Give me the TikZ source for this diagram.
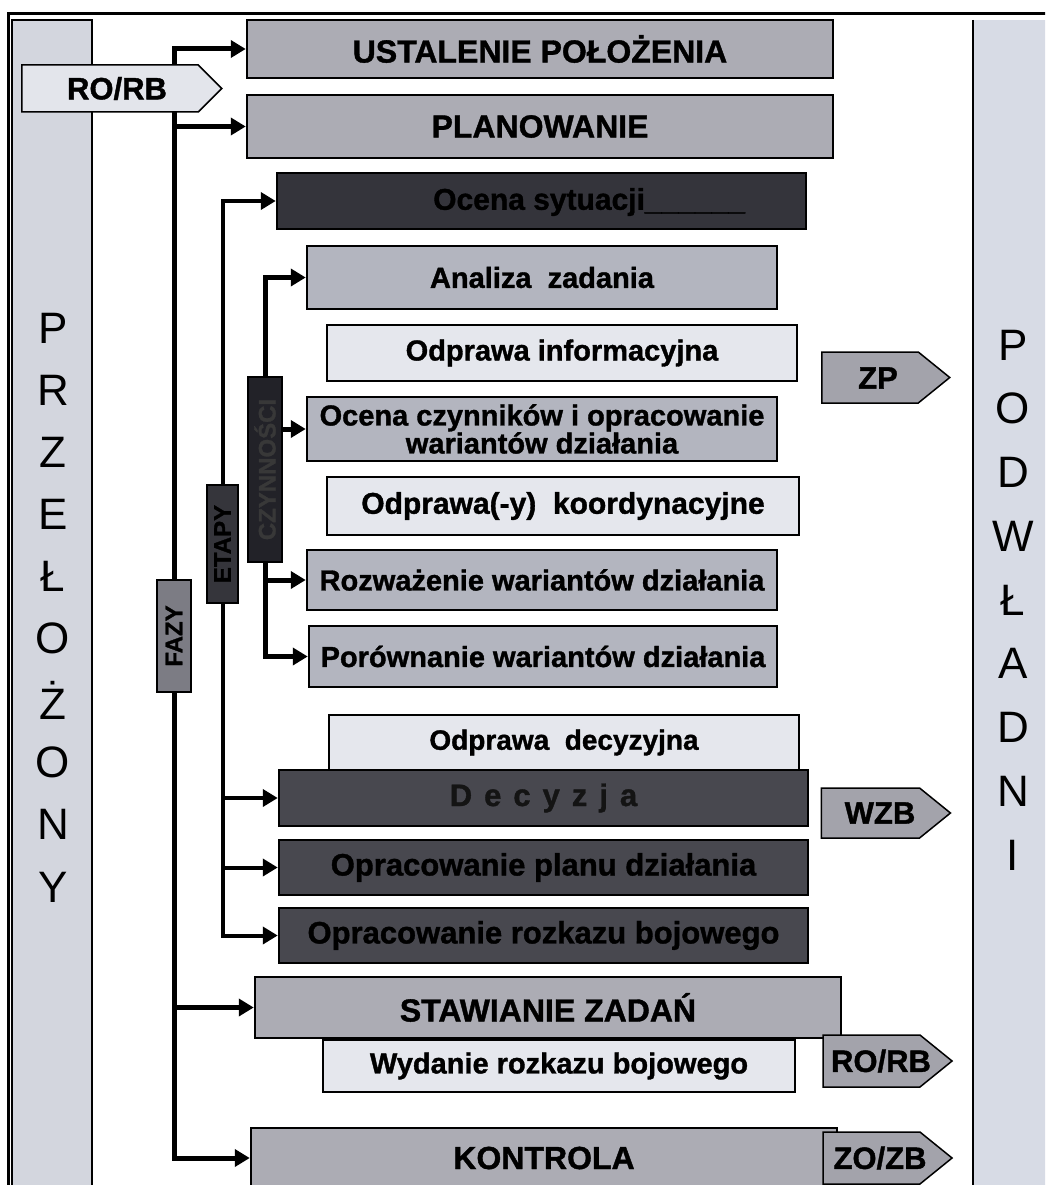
\documentclass[tikz,border=0pt]{standalone}
\usepackage{fontspec}
\setmainfont{Liberation Sans}[BoldFeatures={FakeBold=1.2}]
\usetikzlibrary{arrows.meta,shapes.symbols}

\definecolor{colmain}{HTML}{ACACB4}
\definecolor{colstep}{HTML}{B3B5BF}
\definecolor{colbrief}{HTML}{E5E7ED}
\definecolor{coldark}{HTML}{48484F}
\definecolor{coldarker}{HTML}{34343B}
\definecolor{coltag}{HTML}{A3A3AB}
\definecolor{coltagl}{HTML}{E3E5EB}
\definecolor{colside}{HTML}{D3D6DE}
\definecolor{colsider}{HTML}{D7DBE5}
\definecolor{colfazy}{HTML}{7C7C84}
\definecolor{coletapy}{HTML}{35353B}
\definecolor{colczyn}{HTML}{222228}

\newcommand\decgap{\hspace{12pt}}

\tikzset{
  box/.style={draw=black, line width=2.5pt, rectangle, inner sep=0pt, align=center,
    font=\bfseries\fontsize{29}{31}\selectfont},
  mainbox/.style={box, fill=colmain, font=\bfseries\fontsize{32}{34}\selectfont},
  stepbox/.style={box, fill=colstep},
  briefbox/.style={box, fill=colbrief, line width=2pt},
  darkbox/.style={box, fill=coldark, font=\bfseries\fontsize{31}{33}\selectfont},
  tag/.style={signal, signal to=east, signal pointer angle=78, draw=black, line width=1.5pt,
    fill=coltag, inner sep=0pt},
  tagtext/.style={inner sep=0pt, font=\bfseries\fontsize{31}{33}\selectfont},
  trunk/.style={line width=5pt, -{Triangle[length=15pt,width=17pt]}},
  branch/.style={line width=4pt, -{Triangle[length=15pt,width=17pt]}},
  vlabel/.style={draw=black, line width=1.2pt, inner sep=0pt,
    font=\bfseries\fontsize{24}{24}\selectfont},
  letter/.style={font=\fontsize{44}{44}\selectfont, inner sep=0pt},
}

\begin{document}
\begin{tikzpicture}[x=1pt,y=-1pt]
\useasboundingbox (0,0) rectangle (1045,1185);
\clip (0,0) rectangle (1045,1185);
\fill[white] (0,0) rectangle (1045,1185);

% side columns: superior (left) and subordinates (right)
\draw[fill=colside, line width=2.5pt] (12,20) rectangle (92,1195);
\fill[colsider] (973,20) rectangle (1055,1195);
\draw[line width=1.5pt] (973,20) -- (973,1195);
\draw[line width=3pt] (8,1195) -- (8,14) -- (1055,14);

\foreach \ch [count=\i from 0] in {P,R,Z,E,Ł,O,Ż,O,N,Y}
  \node[letter] (sup\i) at (53,328+62.1*\i) {\ch};
\foreach \ch [count=\i from 0] in {P,O,D,W,Ł,A,D,N,I}
  \node[letter] (sub\i) at (1013,345+63.75*\i) {\ch};

% level labels
\node[vlabel, fill=colfazy, minimum width=34, minimum height=112] (fazy) at (174,636)
  {\rotatebox{90}{FAZY}};
\node[vlabel, fill=coletapy, minimum width=31, minimum height=118] (etapy) at (222.5,544)
  {\rotatebox{90}{ETAPY}};
\node[vlabel, fill=colczyn, text=black!78, minimum width=34, minimum height=185] (czyn) at (265,469.5)
  {\rotatebox{90}{CZYNNOŚCI}};

% process boxes
\node[mainbox, minimum width=586, minimum height=58] (ust) at (540,49) {USTALENIE POŁOŻENIA};
\node[mainbox, minimum width=586, minimum height=63] (plan) at (540,126.5) {PLANOWANIE};
\node[darkbox, fill=coldarker, minimum width=529, minimum height=56] (ocs) at (541.5,201) {};
\node[anchor=west, inner sep=0pt, font=\bfseries\fontsize{30}{32}\selectfont] (ocstxt) at (433,202)
  {Ocena sytuacji\_\_\_\_\_\_};
\node[stepbox, minimum width=470, minimum height=63] (ana) at (542,277.5) {Analiza\ \ zadania};
\node[briefbox, minimum width=470, minimum height=56] (oinf) at (562,353) {Odprawa informacyjna};
\node[stepbox, minimum width=470, minimum height=64] (ocz) at (542,429)
  {Ocena czynników i opracowanie\\[-3pt] wariantów działania};
\node[briefbox, minimum width=472, minimum height=58, font=\bfseries\fontsize{30}{32}\selectfont]
  (okoord) at (563,506) {Odprawa(-y)\ \ koordynacyjne};
\node[stepbox, minimum width=470, minimum height=60] (rozw) at (542,580) {Rozważenie wariantów działania};
\node[stepbox, minimum width=468, minimum height=61] (por) at (543,656.5) {Porównanie wariantów działania};
\node[briefbox, minimum width=470, minimum height=55, font=\bfseries\fontsize{28}{30}\selectfont]
  (odec) at (564,742.5) {Odprawa\ \ decyzyjna};
\node[darkbox, minimum width=529, minimum height=56, text=black!92] (dec) at (543.5,798)
  {D\decgap e\decgap c\decgap y\decgap z\decgap j\decgap a};
\node[darkbox, minimum width=529, minimum height=55] (oplan) at (543.5,867.5) {Opracowanie planu działania};
\node[darkbox, minimum width=529, minimum height=55] (oroz) at (543.5,935.5) {Opracowanie rozkazu bojowego};
\node[mainbox, minimum width=586, minimum height=61] (staw) at (548,1007.5) {STAWIANIE ZADAŃ};
\node[briefbox, minimum width=472, minimum height=52] (wyd) at (559,1066) {Wydanie rozkazu bojowego};
\node[mainbox, minimum width=586, minimum height=60] (kon) at (544,1158) {KONTROLA};

% phases
\draw[trunk] (fazy.north) |- (ust.west);
\draw[trunk] (fazy.north) |- (plan.west);
\draw[trunk] (fazy.south) |- (staw.west);
\draw[trunk] (fazy.south) |- (kon.west);
% stages
\draw[branch] (etapy.north) |- (ocs.west);
\draw[branch] (etapy.south) |- (dec.west);
\draw[branch] (etapy.south) |- (oplan.west);
\draw[branch] (etapy.south) |- (oroz.west);
% activities
\draw[trunk] (czyn.north) |- (ana.west);
\draw[trunk] (czyn.east |- ocz.west) -- (ocz.west);
\draw[trunk] (czyn.south) |- (rozw.west);
\draw[trunk] (czyn.south) |- (por.west);

% documents passed on
\node[tag, fill=coltagl, signal pointer angle=90, minimum width=200, minimum height=47] (rorbin) at (110,88.5) {};
\node[tagtext] (rorbintxt) at (117,88.5) {RO/RB};
\node[tag, minimum width=128, minimum height=51] (zp) at (870,377.5) {};
\node[tagtext] (zptxt) at (878,378) {ZP};
\node[tag, minimum width=129, minimum height=50] (wzb) at (870.5,813) {};
\node[tagtext] (wzbtxt) at (880,813) {WZB};
\node[tag, minimum width=129, minimum height=52] (rorbout) at (871.5,1061) {};
\node[tagtext] (rorbouttxt) at (881,1061) {RO/RB};
\node[tag, minimum width=129, minimum height=52] (zozb) at (871.5,1158) {};
\node[tagtext] (zozbtxt) at (880,1158) {ZO/ZB};
\end{tikzpicture}
\end{document}
